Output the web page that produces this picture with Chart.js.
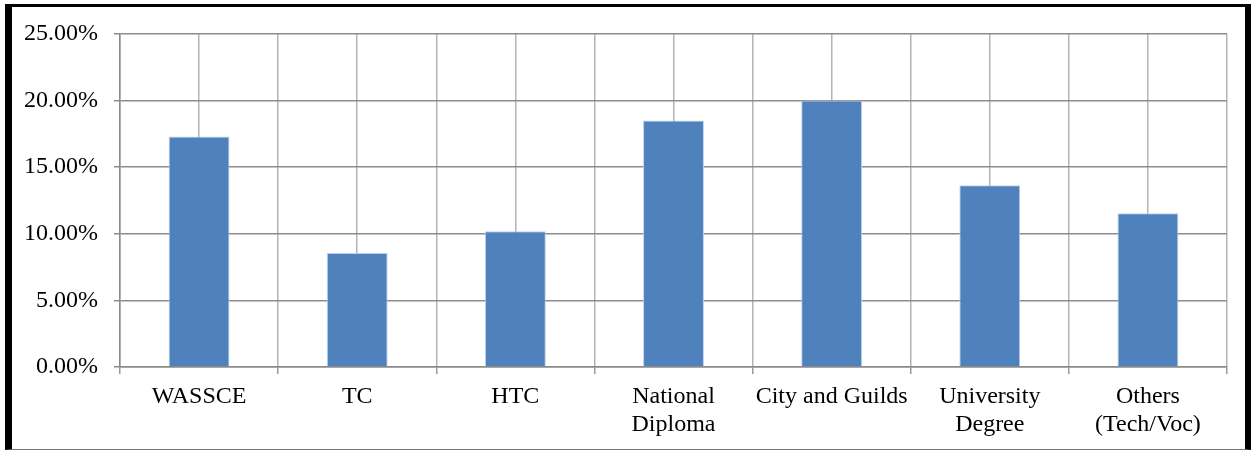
<!DOCTYPE html>
<html lang="en">
<head>
    <meta charset="UTF-8">
    <title>Qualification Chart</title>
    <script src="https://cdn.jsdelivr.net/npm/chart.js"></script>
    <style>
        body { margin: 0; background: #fff; }
        #wrap { position: relative; width: 1257px; height: 451px; }
        #frame {
            position: absolute; left: 5px; top: 4px; right: 6px; bottom: 1px;
            border-top: 3px solid #000; border-left: 7px solid #000;
            border-right: 6px solid #000; border-bottom: 1px solid #777;
            pointer-events: none;
        }
    </style>
</head>
<body>
    <div id="wrap">
        <canvas id="qualChart" width="1257" height="451"></canvas>
        <div id="frame"></div>
    </div>

    <script>
        // categories and values
        const categories = ['WASSCE', 'TC', 'HTC', ['National', 'Diploma'], 'City and Guilds', ['University', 'Degree'], ['Others', '(Tech/Voc)']];
        const shares = [17.3, 8.55, 10.2, 18.5, 20.0, 13.65, 11.55];
        const yTicks = [0, 5, 10, 15, 20, 25];

        const font = { family: '"Liberation Serif", "Times New Roman", serif', size: 24, lineHeight: 1.17 };

        const ctx = document.getElementById('qualChart').getContext('2d');
        const chart = new Chart(ctx, {
            type: 'bar',
            data: {
                labels: categories,
                datasets: [{
                    data: shares,
                    xAxisID: 'x',
                    backgroundColor: '#4f81bd',
                    borderColor: '#bcd0e8',
                    borderWidth: 1,
                    barPercentage: 0.77,
                    categoryPercentage: 0.5,
                }],
            },
            options: {
                responsive: false,
                animation: false,
                layout: { padding: { left: 0, top: 34, right: 30, bottom: 0 } },
                plugins: { legend: { display: false }, tooltip: { enabled: false } },
                scales: {
                    x: {
                        offset: true,
                        grid: { offset: true, color: '#b4b4b4', lineWidth: 1.5, tickLength: 7, tickColor: '#999' },
                        border: { color: '#8a8a8a', width: 1.5 },
                        ticks: { color: '#000', font: font, padding: 9, maxRotation: 0, autoSkip: false },
                        afterFit: (s) => { s.height = 84; },
                    },
                    xc: {
                        position: 'top',
                        offset: true,
                        grid: { offset: false, color: '#b4b4b4', lineWidth: 1.5, drawTicks: false },
                        border: { display: false },
                        ticks: { display: false },
                        afterFit: (s) => { s.height = 0; },
                    },
                    y: {
                        min: 0,
                        max: 25,
                        afterBuildTicks: (s) => { s.ticks = yTicks.map((v) => ({ value: v })); },
                        grid: { color: '#8c8c8c', lineWidth: 1.5, tickLength: 6, tickColor: '#8c8c8c' },
                        border: { color: '#8a8a8a', width: 1.5 },
                        ticks: {
                            color: '#000',
                            font: font,
                            padding: 16,
                            callback: (v) => v.toFixed(2) + '%',
                        },
                        afterFit: (s) => { s.width = 120; },
                    },
                },
            },
        });
    </script>
</body>
</html>
